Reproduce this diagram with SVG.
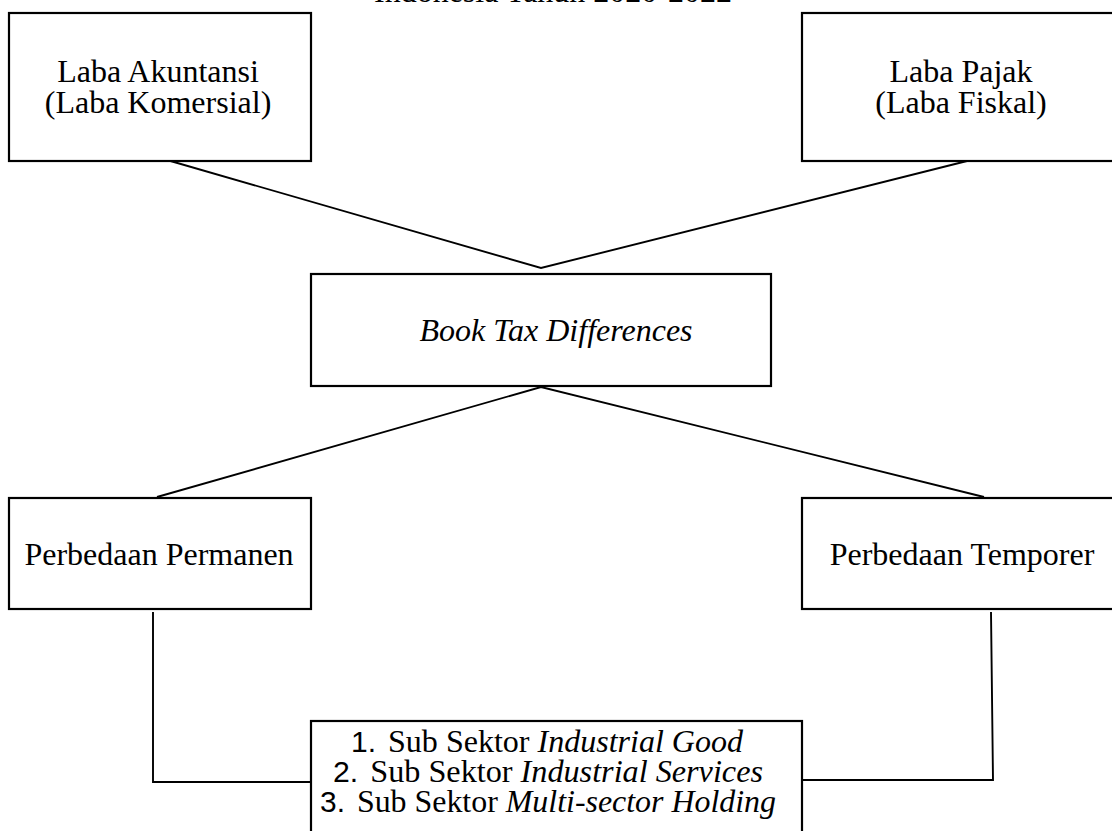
<svg xmlns="http://www.w3.org/2000/svg" width="1112" height="831" viewBox="0 0 1112 831">
<style>
.box{fill:#fff;stroke:#000;stroke-width:2.2}
.ln{fill:none;stroke:#000;stroke-width:1.9}
.t{font-family:"Liberation Serif","Times New Roman",serif;font-size:32px;fill:#000;text-anchor:middle}
.it{font-style:italic}
.sans{font-family:"Liberation Sans",Arial,sans-serif;font-size:30px}
</style>
<rect width="1112" height="831" fill="#fff"/>
<text class="t" x="553" y="1.5">Indonesia Tahun 2020-2022</text>
<g id="connectors">
<polyline class="ln" points="167,160 541,268 971,160"/>
<polyline class="ln" points="157,497 541,387 984,497"/>
<polyline class="ln" points="153,612 153,782 311,782"/>
<polyline class="ln" points="991,612 993,780 802,780"/>
</g>
<g id="laba-akuntansi">
<rect class="box" x="9" y="13" width="302" height="148"/>
<text class="t" x="158" y="82">Laba Akuntansi</text>
<text class="t" x="158" y="113">(Laba Komersial)</text>
</g>
<g id="laba-pajak">
<rect class="box" x="802" y="13" width="320" height="148"/>
<text class="t" x="961" y="82">Laba Pajak</text>
<text class="t" x="961" y="113">(Laba Fiskal)</text>
</g>
<g id="btd">
<rect class="box" x="311" y="274" width="460" height="112"/>
<text class="t it" x="556" y="341">Book Tax Differences</text>
</g>
<g id="permanen">
<rect class="box" x="9" y="498" width="302" height="111"/>
<text class="t" x="159" y="565">Perbedaan Permanen</text>
</g>
<g id="temporer">
<rect class="box" x="802" y="498" width="320" height="111"/>
<text class="t" x="962" y="565">Perbedaan Temporer</text>
</g>
<g id="sub-sektor">
<rect class="box" x="311" y="721" width="491" height="130"/>
<text class="t" x="547" y="752" textLength="392" lengthAdjust="spacingAndGlyphs"><tspan class="sans">1.</tspan><tspan dx="12">Sub Sektor </tspan><tspan class="it">Industrial Good</tspan></text>
<text class="t" x="548" y="782" textLength="430" lengthAdjust="spacingAndGlyphs"><tspan class="sans">2.</tspan><tspan dx="12">Sub Sektor </tspan><tspan class="it">Industrial Services</tspan></text>
<text class="t" x="548" y="812" textLength="456" lengthAdjust="spacingAndGlyphs"><tspan class="sans">3.</tspan><tspan dx="12">Sub Sektor </tspan><tspan class="it">Multi-sector Holding</tspan></text>
</g>
</svg>
